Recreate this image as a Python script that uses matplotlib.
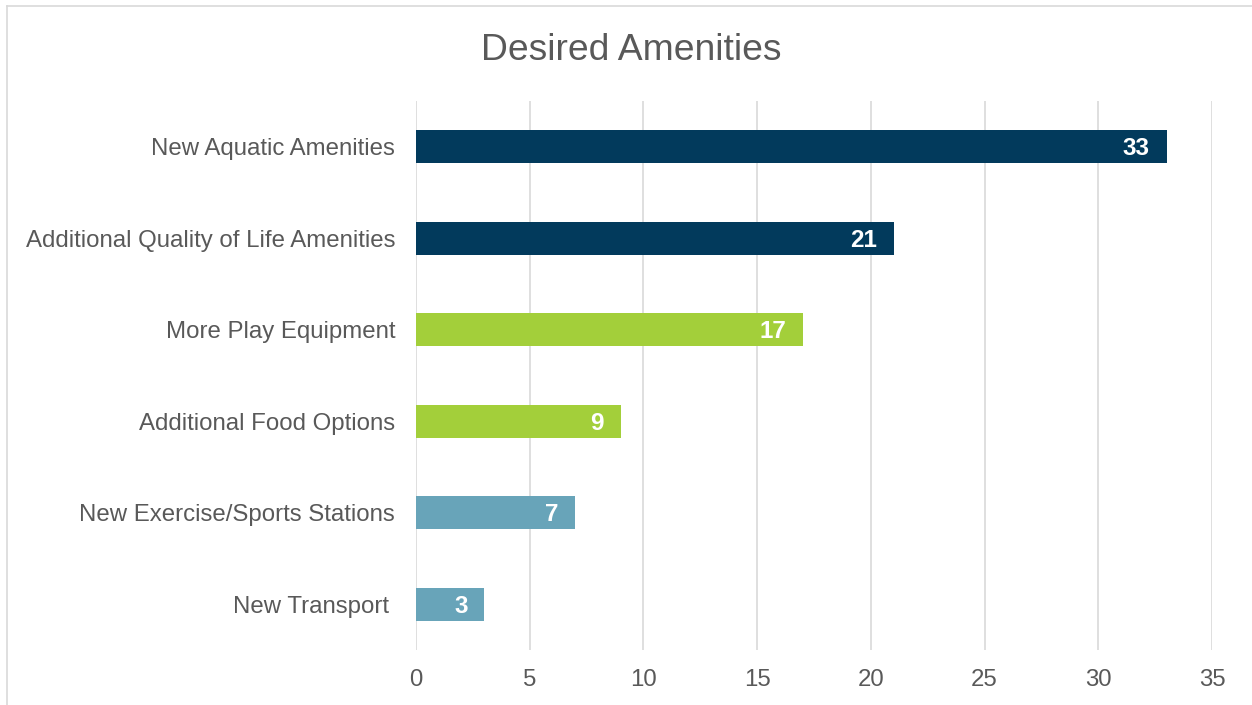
import matplotlib
matplotlib.use("Agg")
import matplotlib.pyplot as plt
from matplotlib.lines import Line2D

plt.rcParams['font.family'] = ['Liberation Sans', 'DejaVu Sans']

categories = ["New Aquatic Amenities", "Additional Quality of Life Amenities",
              "More Play Equipment", "Additional Food Options",
              "New Exercise/Sports Stations", "New Transport "]
values = [33, 21, 17, 9, 7, 3]
colors = ["#023A5C", "#023A5C", "#A3CF3A", "#A3CF3A", "#68A4B9", "#68A4B9"]
xticks = [0, 5, 10, 15, 20, 25, 30, 35]
title = "Desired Amenities"

W, H = 1252, 705
fig = plt.figure(figsize=(W / 100, H / 100), dpi=100)
ax = fig.add_axes([416 / W, 1 - 650 / H, (1212 - 416) / W, (650 - 101) / H])

ypos = list(range(len(categories)))
ax.barh(ypos, values, height=0.36, color=colors, zorder=3)
ax.set_ylim(len(categories) - 0.5, -0.5)
ax.set_xlim(0, 35)
ax.set_xticks(xticks)
ax.set_yticks(ypos)
ax.set_yticklabels(categories)
ax.tick_params(axis='both', length=0, labelsize=17.3, colors="#595959")
ax.tick_params(axis='y', pad=15)
ax.tick_params(axis='x', pad=14)
for s in ax.spines.values():
    s.set_visible(False)
ax.grid(axis='x', color="#D9D9D9", linewidth=1.2, zorder=0)
ax.set_axisbelow(True)

for y, v in zip(ypos, values):
    ax.annotate(str(v), xy=(v, y), xytext=(-12, -1.3), textcoords='offset points',
                ha='right', va='center', color='white', fontsize=17.5,
                fontweight='bold', zorder=4)

fig.text(631 / W, 1 - 50 / H, title, ha='center', va='center',
         fontsize=26.8, color="#595959")

# chart area border (left and top visible)
fig.add_artist(Line2D([6.5 / W, 6.5 / W], [0, 1 - 5.5 / H], transform=fig.transFigure,
                      color="#D9D9D9", linewidth=1.2))
fig.add_artist(Line2D([6.5 / W, 1], [1 - 5.5 / H, 1 - 5.5 / H], transform=fig.transFigure,
                      color="#D9D9D9", linewidth=1.2))

fig.savefig("out.png", dpi=100, facecolor="white")
